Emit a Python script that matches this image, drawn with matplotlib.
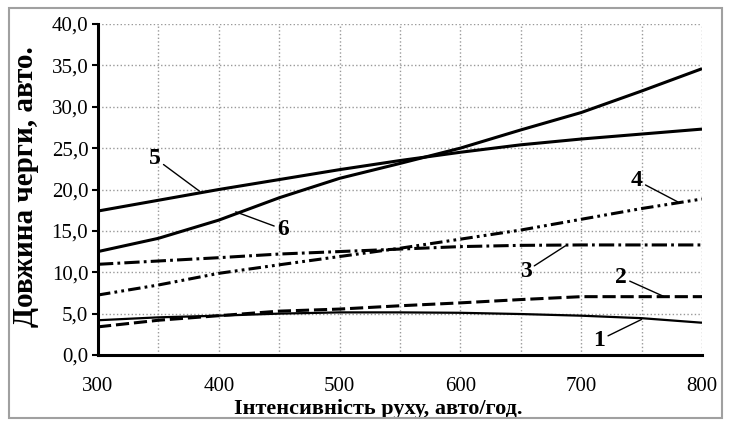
import matplotlib
matplotlib.use('Agg')
import matplotlib.pyplot as plt
from matplotlib.patches import Rectangle
from matplotlib.ticker import FixedLocator, FuncFormatter

plt.rcParams['font.family'] = ['Liberation Serif', 'DejaVu Serif']
plt.rcParams['lines.scale_dashes'] = False

# intensity, veh/h
x = [300, 350, 400, 450, 500, 550, 600, 650, 700, 750, 800]

# queue length for curves 1..6
q1 = [4.2, 4.55, 4.75, 5.0, 5.15, 5.15, 5.1, 4.95, 4.75, 4.45, 3.9]
q2 = [3.4, 4.2, 4.75, 5.3, 5.55, 5.95, 6.3, 6.7, 7.05, 7.05, 7.05]
q3 = [10.96, 11.36, 11.76, 12.2, 12.5, 12.8, 13.1, 13.25, 13.3, 13.3, 13.3]
q4 = [7.25, 8.46, 9.87, 10.9, 11.9, 12.9, 14.0, 15.1, 16.4, 17.7, 18.85]
q5 = [17.4, 18.7, 20.0, 21.2, 22.4, 23.5, 24.5, 25.4, 26.1, 26.7, 27.3]
q6 = [12.5, 14.1, 16.3, 19.0, 21.35, 23.15, 25.0, 27.2, 29.3, 31.9, 34.6]

series = [q1, q2, q3, q4, q5, q6]
styles = ['-', (0, (9.5, 3.5)), (0, (11, 3, 2, 3)), (0, (9, 3, 2, 3, 2, 3)), '-', '-']
widths = [1.6, 2.2, 2.2, 2.2, 2.2, 2.2]

# curve labels: (text, point on curve, text position)
labels = ['1', '2', '3', '4', '5', '6']
label_xy = [(750, 4.3), (768, 7.1), (687, 13.2), (780, 18.5), (384, 19.8), (414, 17.3)]
label_txt = [(715, 1.8), (733, 9.4), (654, 10.1), (746, 21.1), (347, 23.8), (453, 15.2)]

fig = plt.figure(figsize=(7.29, 4.26), dpi=100)
ax = fig.add_axes([98/729, 71/426, 604/729, 331/426])

for y, ls, lw in zip(series, styles, widths):
    ax.plot(x, y, color='black', linestyle=ls, linewidth=lw, solid_capstyle='butt')

for t, xy, xt in zip(labels, label_xy, label_txt):
    ax.annotate(t, xy=xy, xytext=xt, ha='center', va='center',
                fontsize=17, fontweight='bold',
                arrowprops=dict(arrowstyle='-', color='black', lw=1,
                                shrinkA=0, shrinkB=0))

ax.set_xlim(300, 800)
ax.set_ylim(0, 40)

ax.xaxis.set_major_locator(FixedLocator(list(range(300, 801, 50))))
ax.xaxis.set_major_formatter(FuncFormatter(lambda v, p: '%d' % v if v % 100 == 0 else ''))
ax.xaxis.set_minor_locator(FixedLocator([350, 450, 550, 650, 750, 800]))
ax.yaxis.set_major_locator(FixedLocator(list(range(0, 41, 5))))
ax.yaxis.set_major_formatter(FuncFormatter(lambda v, p: ('%.1f' % v).replace('.', ',')))

ax.tick_params(axis='x', which='major', length=0, pad=16, labelsize=15)
ax.tick_params(axis='x', which='minor', direction='inout', length=8, width=2)
ax.tick_params(axis='y', which='major', direction='out', length=4, width=1.5, pad=3, labelsize=15)

ax.grid(True, which='major', color='#999999', linestyle=':', linewidth=1)
ax.set_axisbelow(True)

for s in ['top', 'right']:
    ax.spines[s].set_visible(False)
for s in ['left', 'bottom']:
    ax.spines[s].set_linewidth(2.2)

ax.set_xlabel('Інтенсивність руху, авто/год.', fontsize=16, fontweight='bold')
ax.xaxis.set_label_coords(0.4636, -0.134)
ax.set_ylabel('Довжина черги, авто.', fontsize=21, fontweight='bold')
ax.yaxis.set_label_coords(-0.097, 0.51)

fig.patches.append(Rectangle((9/729, 8/426), 713/729, 410/426, transform=fig.transFigure,
                             fill=False, edgecolor='#a0a0a0', linewidth=1.5))

plt.savefig('out.png', dpi=100)
